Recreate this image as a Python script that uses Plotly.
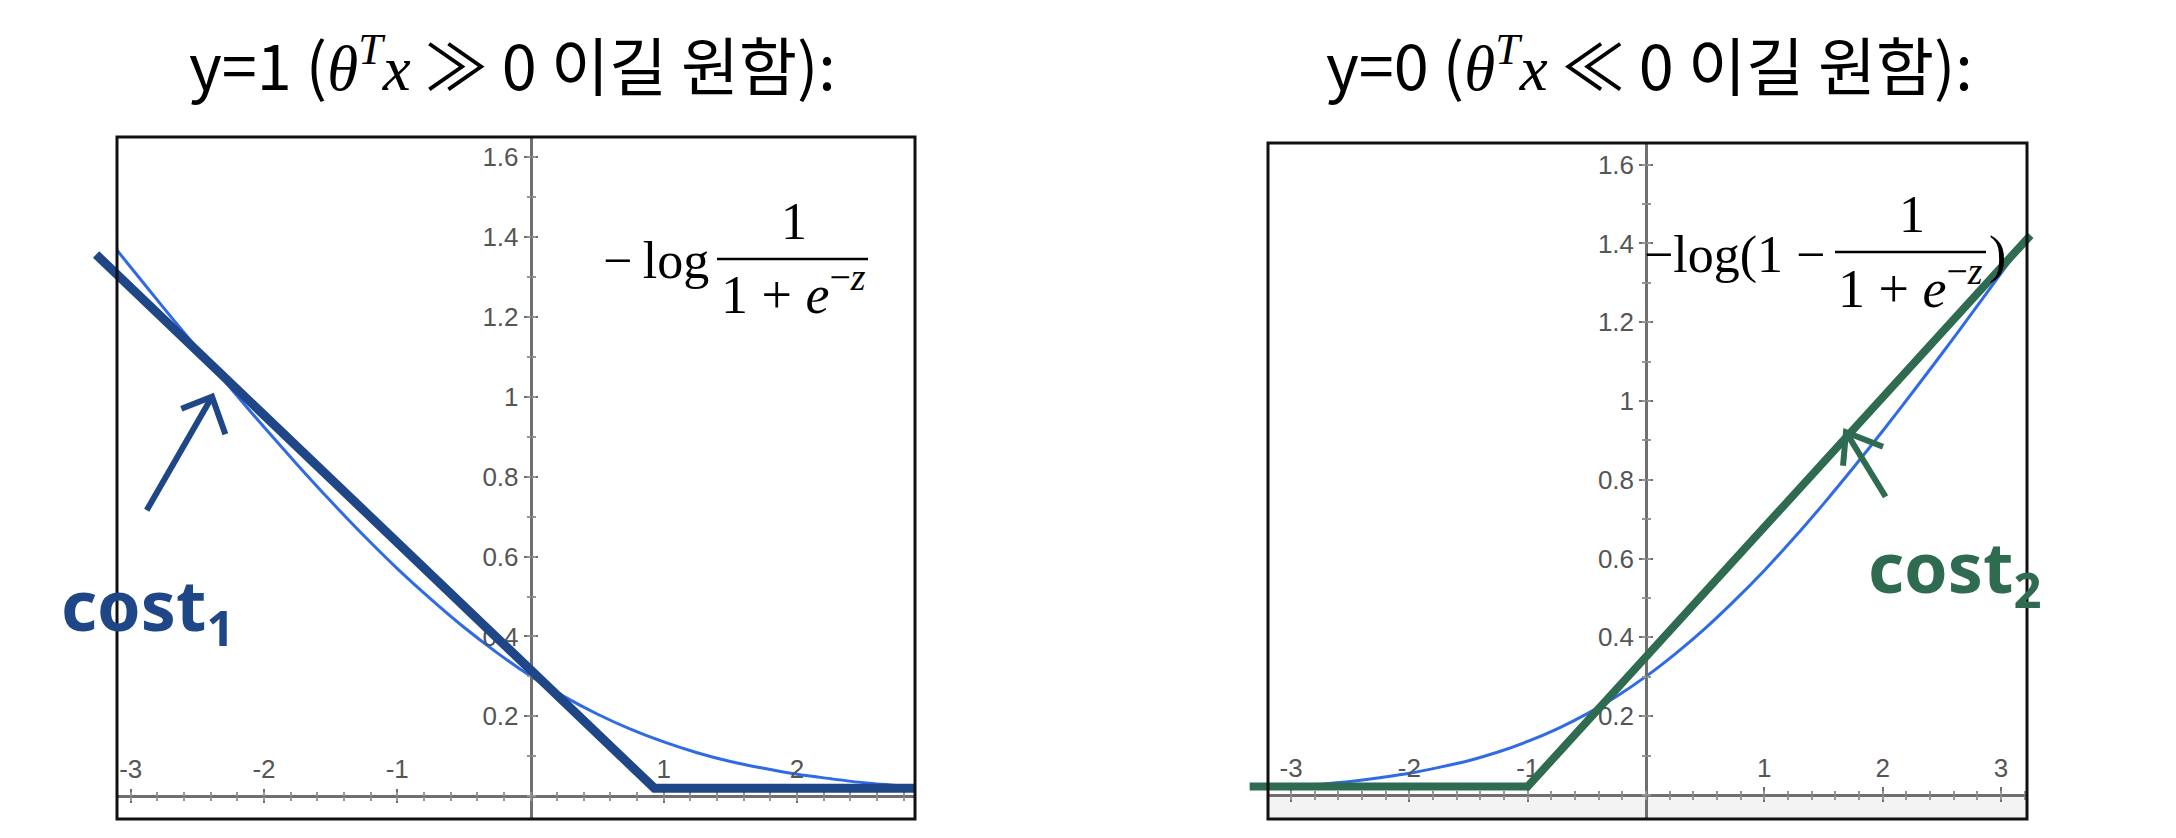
import plotly.graph_objects as go

W, H = 2176, 838

# ---------------- data ----------------
# left panel: blue curve  -log(1/(1+e^-z))
z_left = [-3.25, -3.0, -2.75, -2.5, -2.25, -2.0, -1.75, -1.5, -1.25, -1.0, -0.75, -0.5,
          -0.25, 0.0, 0.25, 0.5, 0.75, 1.0, 1.25, 1.5, 1.75, 2.0, 2.25, 2.5, 2.75, 3.0]
cost_left = [1.428, 1.324, 1.221, 1.120, 1.021, 0.924, 0.830, 0.739, 0.652, 0.570, 0.494, 0.423,
             0.359, 0.301, 0.250, 0.206, 0.168, 0.136, 0.109, 0.087, 0.070, 0.055, 0.044, 0.034, 0.027, 0.021]
# right panel: blue curve  -log(1 - 1/(1+e^-z))
z_right = [-3.25, -3.0, -2.75, -2.5, -2.25, -2.0, -1.75, -1.5, -1.25, -1.0, -0.75, -0.5, -0.25,
           0.0, 0.25, 0.5, 0.75, 1.0, 1.25, 1.5, 1.75, 2.0, 2.25, 2.5, 2.75, 3.0, 3.25]
cost_right = [0.017, 0.021, 0.027, 0.034, 0.044, 0.055, 0.070, 0.087, 0.109, 0.136, 0.168, 0.206, 0.250,
              0.301, 0.359, 0.423, 0.494, 0.570, 0.652, 0.739, 0.830, 0.924, 1.021, 1.120, 1.221, 1.324, 1.428]
# hand-drawn approximations
cost1_z = [-3.26, 0.93, 2.89]
cost1_v = [1.356, 0.02, 0.02]
cost2_z = [-3.35, -1.0, 3.25]
cost2_v = [0.0215, 0.0215, 1.421]
# hand-drawn arrows: tail -> tip, then barb -> tip -> barb
arrow1_z = [-2.88, -2.39, None, -2.62, -2.39, -2.29]
arrow1_v = [0.716, 1.0, None, 0.97, 1.0, 0.906]
arrow2_z = [2.025, 1.69, None, 1.665, 1.69, 2.003]
arrow2_v = [0.757, 0.921, None, 0.836, 0.921, 0.884]

x_ticks_left = [-3, -2, -1, 1, 2]
x_ticks_right = [-3, -2, -1, 1, 2, 3]
y_ticks = [0.2, 0.4, 0.6, 0.8, 1.0, 1.2, 1.4, 1.6]
y_labels = ["0.2", "0.4", "0.6", "0.8", "1", "1.2", "1.4", "1.6"]

title_left = 'y=1 (<span style="font-family:Liberation Serif"><i>θ</i><sup><i>T</i></sup><i>x</i></span> ≫ 0 이길 원함):'
title_right = 'y=0 (<span style="font-family:Liberation Serif"><i>θ</i><sup><i>T</i></sup><i>x</i></span> ≪ 0 이길 원함):'

# ---------------- layout geometry (pixels) ----------------
panels = {
    "L": dict(px0=109, px1=907, py0=129, py1=811, xr=[-3.103, 2.885], yr=[-0.0568, 1.650]),
    "R": dict(px0=1260, px1=2019, py0=135, py1=811, xr=[-3.195, 3.22], yr=[-0.061, 1.655]),
}
AX = "#6f6f6f"
MINC = "#959595"
LBL = dict(family="Liberation Sans, Arial, sans-serif", size=26, color="#555555")

fig = go.Figure()
layout = dict(width=W, height=H, margin=dict(l=0, r=0, t=0, b=0),
              paper_bgcolor="white", plot_bgcolor="rgba(0,0,0,0)", showlegend=False)
shapes, annotations = [], []
counter = [0]


def new_id():
    counter[0] += 1
    return counter[0]


def key(letter, n):
    return f"{letter}axis" if n == 1 else f"{letter}axis{n}"


def ref(letter, n):
    return letter if n == 1 else f"{letter}{n}"


def px2paper(px, py):
    return px / W, 1 - py / H


def setup(k, xticks):
    p = panels[k]
    a, b = p["xr"]
    c, d = p["yr"]
    xd = [p["px0"] / W, p["px1"] / W]
    yd = [1 - p["py1"] / H, 1 - p["py0"] / H]
    xpos = xd[0] + (0 - a) / (b - a) * (xd[1] - xd[0])
    ypos = yd[0] + (0 - c) / (d - c) * (yd[1] - yd[0])
    m = new_id()
    mx, my = ref("x", m), ref("y", m)
    layout[key("x", m)] = dict(range=[a, b], domain=xd, anchor=my, visible=False, fixedrange=True)
    layout[key("y", m)] = dict(range=[c, d], domain=yd, anchor=mx, visible=False, fixedrange=True)

    def ov(letter, pos, side, **kw):
        n = new_id()
        base = dict(range=[a, b] if letter == "x" else [c, d], overlaying=mx if letter == "x" else my,
                    anchor="free", position=pos, side=side, showgrid=False, zeroline=False,
                    fixedrange=True, ticks="outside", tickwidth=2)
        base.update(kw)
        layout[key(letter, n)] = base
        # empty carrier trace so the overlay axis gets a subplot
        fig.add_trace(go.Scatter(x=[], y=[], xaxis=ref("x", n) if letter == "x" else mx,
                                 yaxis=my if letter == "x" else ref("y", n), hoverinfo="skip"))

    # x axis: line + labels + major ticks upward
    ov("x", ypos, "top", showline=True, linecolor=AX, linewidth=2.5, tickmode="array", tickvals=xticks,
       ticktext=[str(t) for t in xticks], ticklen=7, tickcolor=AX, tickfont=LBL)
    # major ticks downward
    ov("x", ypos, "bottom", showline=False, showticklabels=False, tickmode="array", tickvals=xticks,
       ticklen=6, tickcolor=AX)
    # minor ticks both sides
    for s in ("top", "bottom"):
        ov("x", ypos, s, showline=False, showticklabels=False, tickmode="linear", tick0=0, dtick=0.2,
           ticklen=4, tickcolor=MINC, tickwidth=1.5)
    # y axis
    ov("y", xpos, "left", showline=True, linecolor=AX, linewidth=2.5, tickmode="array", tickvals=y_ticks,
       ticktext=y_labels, ticklen=6, tickcolor=AX, tickfont=LBL)
    ov("y", xpos, "right", showline=False, showticklabels=False, tickmode="array", tickvals=y_ticks,
       ticklen=6, tickcolor=AX)
    for s in ("left", "right"):
        ov("y", xpos, s, showline=False, showticklabels=False, tickmode="linear", tick0=0, dtick=0.1,
           ticklen=4, tickcolor=MINC, tickwidth=1.5)

    # ink axes: same scale, larger area so hand strokes can cross the frame
    padx, pady = 45, 20
    ux = (p["px1"] - p["px0"]) / (b - a)
    uy = (p["py1"] - p["py0"]) / (d - c)
    i = new_id()
    layout[key("x", i)] = dict(range=[a - padx / ux, b + padx / ux],
                               domain=[(p["px0"] - padx) / W, (p["px1"] + padx) / W],
                               anchor=ref("y", i), visible=False, fixedrange=True)
    layout[key("y", i)] = dict(range=[c - pady / uy, d + pady / uy],
                               domain=[1 - (p["py1"] + pady) / H, 1 - (p["py0"] - pady) / H],
                               anchor=ref("x", i), visible=False, fixedrange=True)
    # frame
    shapes.append(dict(type="rect", xref="paper", yref="paper", x0=xd[0], x1=xd[1], y0=yd[0], y1=yd[1],
                       line=dict(color="#111111", width=3), layer="above"))
    return (mx, my), (ref("x", i), ref("y", i))


(Lx, Ly), (Lix, Liy) = setup("L", x_ticks_left)
(Rx, Ry), (Rix, Riy) = setup("R", x_ticks_right)

# light grey band below the x-axis of right panel
shapes.append(dict(type="rect", xref=Rx, yref=Ry, x0=panels["R"]["xr"][0], x1=panels["R"]["xr"][1],
                   y0=panels["R"]["yr"][0], y1=-0.006,
                   fillcolor="#f3f3f3", line=dict(width=0), layer="below"))

BLUE = "#2f6be3"
NAVY = "#1f4687"
GREEN = "#2f6b51"

fig.add_trace(go.Scatter(x=z_left, y=cost_left, mode="lines",
                         line=dict(color=BLUE, width=3, shape="spline", smoothing=0.8),
                         xaxis=Lx, yaxis=Ly, hoverinfo="skip"))
fig.add_trace(go.Scatter(x=z_right, y=cost_right, mode="lines",
                         line=dict(color=BLUE, width=3, shape="spline", smoothing=0.8),
                         xaxis=Rx, yaxis=Ry, hoverinfo="skip"))
fig.add_trace(go.Scatter(x=cost1_z, y=cost1_v, mode="lines", line=dict(color=NAVY, width=9),
                         xaxis=Lix, yaxis=Liy, hoverinfo="skip"))
fig.add_trace(go.Scatter(x=arrow1_z, y=arrow1_v, mode="lines", line=dict(color=NAVY, width=6),
                         xaxis=Lix, yaxis=Liy, hoverinfo="skip", connectgaps=False))
fig.add_trace(go.Scatter(x=cost2_z, y=cost2_v, mode="lines", line=dict(color=GREEN, width=8),
                         xaxis=Rix, yaxis=Riy, hoverinfo="skip"))
fig.add_trace(go.Scatter(x=arrow2_z, y=arrow2_v, mode="lines", line=dict(color=GREEN, width=6),
                         xaxis=Rix, yaxis=Riy, hoverinfo="skip", connectgaps=False))

# titles
TF = dict(family="Noto Sans CJK KR, Noto Sans, sans-serif", size=63, color="black")
for txt, cx in [(title_left, 504), (title_right, 1641)]:
    x, y = px2paper(cx, 54)
    annotations.append(dict(text=txt, x=x, y=y, xref="paper", yref="paper", showarrow=False,
                            xanchor="center", yanchor="middle", font=TF))

# formulas
MF = dict(family="Liberation Serif, Times New Roman, serif", size=52, color="black")
MFD = dict(family="Liberation Serif, Times New Roman, serif", size=54, color="black")


def ann(text, px, py, xanchor="center", font=MF):
    x, y = px2paper(px, py)
    annotations.append(dict(text=text, x=x, y=y, xref="paper", yref="paper", showarrow=False,
                            xanchor=xanchor, yanchor="middle", font=font))


def hline(px0, px1, py):
    x0, y = px2paper(px0, py)
    x1, _ = px2paper(px1, py)
    shapes.append(dict(type="line", xref="paper", yref="paper", x0=x0, x1=x1, y0=y, y1=y,
                       line=dict(color="black", width=2.5), layer="above"))


ann("−\u2009log", 703, 252, xanchor="right")
hline(709, 860, 251)
ann("1", 786, 213)
ann("1 + <i>e</i><sup>−<i>z</i></sup>", 785, 282, font=MFD)

ann("−log(1 −", 1819, 247, xanchor="right")
hline(1827, 1978, 244)
ann("1", 1904, 207)
ann("1 + <i>e</i><sup>−<i>z</i></sup>", 1902, 277, font=MFD)
ann(")", 1979, 247, xanchor="left")

# handwritten labels
HF1 = dict(family="Noto Sans, sans-serif", size=70, color=NAVY, weight=700)
HF2 = dict(family="Noto Sans, sans-serif", size=70, color=GREEN, weight=700)
ann("cost<sub>1</sub>", 139, 600, font=HF1)
ann("cost<sub>2</sub>", 1946, 562, font=HF2)

layout["shapes"] = shapes
layout["annotations"] = annotations
fig.update_layout(**layout)
fig.write_html("out.html")
